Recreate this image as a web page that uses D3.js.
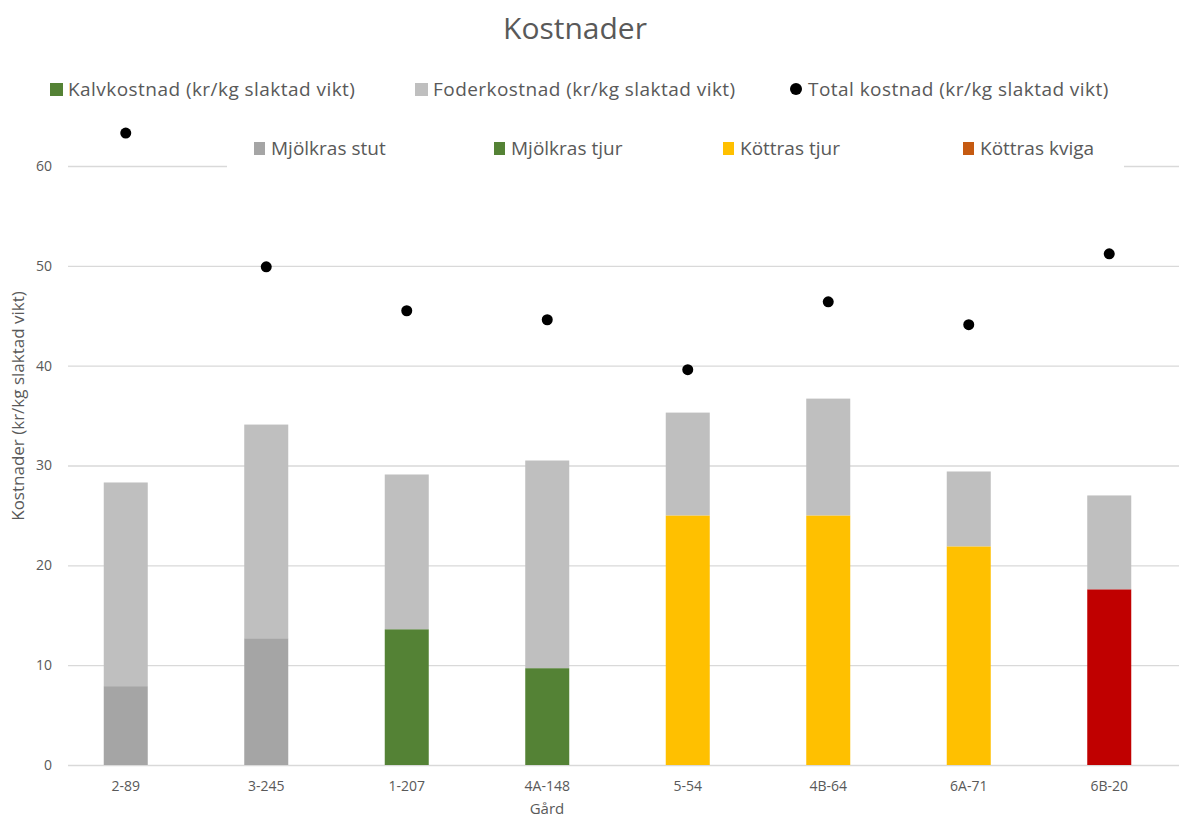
<!DOCTYPE html>
<html>
<head>
<meta charset="utf-8">
<script src="https://cdn.jsdelivr.net/npm/d3@7"></script>
<style>
  body { margin: 0; background: #fff; }
  svg text { font-family: "Open Sans", sans-serif; fill: #595959; }
</style>
</head>
<body>
<div id="chart"></div>
<script>
// data
const farms = ['2-89', '3-245', '1-207', '4A-148', '5-54', '4B-64', '6A-71', '6B-20'];
const breed = ['Mjölkras stut', 'Mjölkras stut', 'Mjölkras tjur', 'Mjölkras tjur',
               'Köttras tjur', 'Köttras tjur', 'Köttras tjur', 'Köttras kviga'];
const kalvkostnad = [7.9, 12.7, 13.6, 9.7, 25.0, 25.0, 21.9, 17.6];
const foderkostnad = [20.4, 21.4, 15.5, 20.8, 10.3, 11.7, 7.5, 9.4];
const totalkostnad = [63.3, 49.9, 45.5, 44.6, 39.6, 46.4, 44.1, 51.2];
const yTicks = [0, 10, 20, 30, 40, 50, 60];

const breedColor = {
  'Mjölkras stut': '#a5a5a5',
  'Mjölkras tjur': '#548235',
  'Köttras tjur': '#ffc000',
  'Köttras kviga': '#c00000'
};
const breedLegendColor = {
  'Mjölkras stut': '#a5a5a5',
  'Mjölkras tjur': '#548235',
  'Köttras tjur': '#ffc000',
  'Köttras kviga': '#c55a11'
};
const foderColor = '#bfbfbf';

const W = 1179, H = 820;
const svg = d3.select('#chart').append('svg')
  .attr('width', W).attr('height', H);

const x = d3.scaleBand().domain(farms).range([55.5, 1179.5]).padding(0);
const y = d3.scaleLinear().domain([0, 60]).range([765, 166]);
const barW = 44;

// gridlines + tick labels
const gridLeft = 68, gridRight = 1179;
const yAxis = svg.append('g')
  .attr('transform', `translate(${gridLeft},0)`)
  .call(d3.axisLeft(y).tickValues(yTicks).tickSize(-(gridRight - gridLeft)).tickPadding(16));
yAxis.select('.domain').remove();
yAxis.selectAll('.tick line').attr('stroke', '#d9d9d9').attr('stroke-width', 1.3);
yAxis.selectAll('.tick text').style('font-size', '14px').attr('fill', '#595959');

// stacked bars
const data = farms.map((f, i) => ({ farm: f, breed: breed[i], kalv: kalvkostnad[i], foder: foderkostnad[i], total: totalkostnad[i] }));

const bars = svg.append('g');
bars.selectAll('.kalv')
  .data(data).enter().append('rect')
  .attr('class', 'kalv')
  .attr('x', d => x(d.farm) + (x.bandwidth() - barW) / 2)
  .attr('width', barW)
  .attr('y', d => y(d.kalv))
  .attr('height', d => y(0) - y(d.kalv))
  .attr('fill', d => breedColor[d.breed]);

bars.selectAll('.foder')
  .data(data).enter().append('rect')
  .attr('class', 'foder')
  .attr('x', d => x(d.farm) + (x.bandwidth() - barW) / 2)
  .attr('width', barW)
  .attr('y', d => y(d.kalv + d.foder))
  .attr('height', d => y(d.kalv) - y(d.kalv + d.foder))
  .attr('fill', foderColor);

// total cost dots
svg.append('g').selectAll('circle')
  .data(data).enter().append('circle')
  .attr('cx', d => x(d.farm) + x.bandwidth() / 2)
  .attr('cy', d => y(d.total))
  .attr('r', 5.5)
  .attr('fill', '#000');

// x axis labels
const xAxis = svg.append('g')
  .attr('transform', `translate(0,${y(0)})`)
  .call(d3.axisBottom(x).tickSize(0).tickPadding(16));
xAxis.select('.domain').remove();
xAxis.selectAll('.tick text').style('font-size', '14px').attr('fill', '#595959');

// titles
svg.append('text').attr('x', 575).attr('y', 39).attr('text-anchor', 'middle')
  .style('font-size', '30px').text('Kostnader');
svg.append('text').attr('x', 547).attr('y', 814).attr('text-anchor', 'middle')
  .style('font-size', '15px').text('Gård');
svg.append('text')
  .attr('transform', 'translate(24,406) rotate(-90)')
  .attr('text-anchor', 'middle')
  .style('font-size', '17px').text('Kostnader (kr/kg slaktad vikt)');

// legend row 1
const legend1 = [
  { label: 'Kalvkostnad (kr/kg slaktad vikt)', color: '#548235', x: 50, shape: 'rect' },
  { label: 'Foderkostnad (kr/kg slaktad vikt)', color: foderColor, x: 415, shape: 'rect' },
  { label: 'Total kostnad (kr/kg slaktad vikt)', color: '#000', x: 790, shape: 'circle' }
];
const l1 = svg.append('g').attr('transform', 'translate(0,89)');
legend1.forEach(d => {
  if (d.shape === 'rect') {
    l1.append('rect').attr('x', d.x).attr('y', -6).attr('width', 13).attr('height', 13).attr('fill', d.color);
  } else {
    l1.append('circle').attr('cx', d.x + 6).attr('cy', 0).attr('r', 6).attr('fill', d.color);
  }
  l1.append('text').attr('x', d.x + 18).attr('y', 0).attr('dy', '0.35em')
    .style('font-size', '19px').style('letter-spacing', '0.45px').text(d.label);
});

// legend row 2 (breed), white box over the top gridline
const breeds = ['Mjölkras stut', 'Mjölkras tjur', 'Köttras tjur', 'Köttras kviga'];
const breedX = [254, 494, 723, 963];
const l2 = svg.append('g');
l2.append('rect').attr('x', 227).attr('y', 128).attr('width', 1124 - 227).attr('height', 44).attr('fill', '#fff');
breeds.forEach((b, i) => {
  l2.append('rect').attr('x', breedX[i]).attr('y', 142).attr('width', 11).attr('height', 13)
    .attr('fill', breedLegendColor[b]);
  l2.append('text').attr('x', breedX[i] + 17).attr('y', 148).attr('dy', '0.35em')
    .style('font-size', '19px').text(b);
});
</script>
</body>
</html>
